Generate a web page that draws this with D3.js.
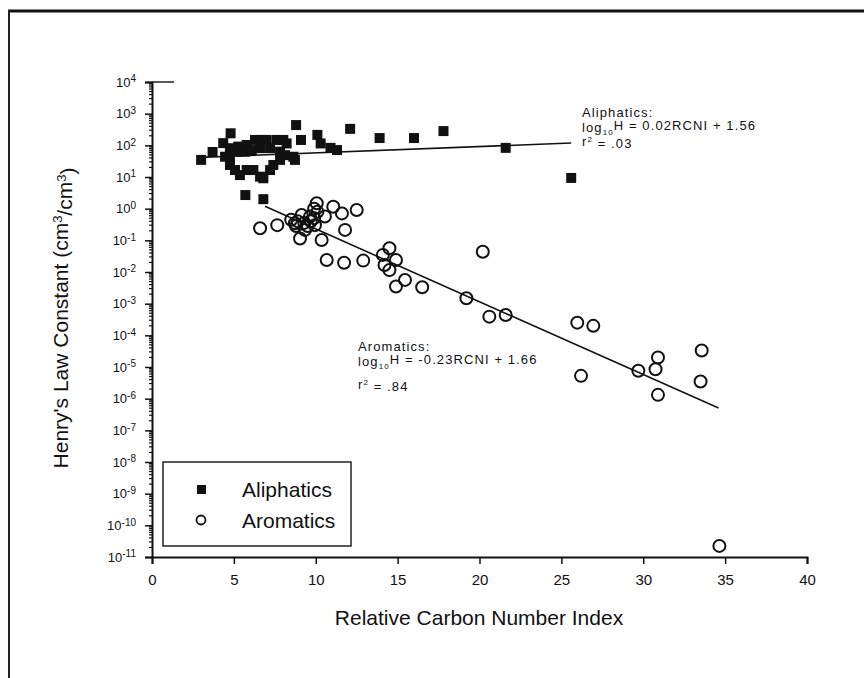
<!DOCTYPE html>
<html>
<head>
<meta charset="utf-8">
<script src="https://cdn.jsdelivr.net/npm/d3@7"></script>
<style>
  html, body { margin: 0; padding: 0; background: #fff; }
  svg { display: block; font-family: "Liberation Sans", Arial, sans-serif; }
</style>
</head>
<body>
<svg id="chart" width="864" height="678"></svg>
<script>
// Relative Carbon Number Index (RCNI) vs log10 of Henry's law constant
const aliphaticX = [3.0, 3.7, 4.35, 4.8, 8.8, 9.1, 10.1, 12.1, 10.9, 10.3, 11.3,
  13.9, 16.0, 17.8, 21.6, 25.6, 5.7, 6.8,
  4.76, 5.27, 5.78, 6.29, 6.7, 7.0, 7.61, 8.02, 8.22,
  4.76, 5.17, 5.68, 6.09, 6.6, 7.21, 7.82, 8.12, 8.63, 8.73,
  4.76, 5.07, 5.37, 5.78, 6.19, 6.6, 6.8, 7.21, 7.41, 7.82, 4.46];
const aliphaticLogH = [1.54, 1.79, 2.07, 2.38, 2.64, 2.17, 2.33, 2.52, 1.92, 2.06, 1.85,
  2.23, 2.23, 2.45, 1.92, 0.97, 0.43, 0.30,
  1.91, 1.96, 2.01, 2.17, 2.17, 2.17, 2.17, 2.17, 2.06,
  1.69, 1.80, 1.80, 1.85, 1.91, 1.91, 1.80, 1.69, 1.64, 1.54,
  1.38, 1.22, 1.06, 1.22, 1.22, 1.01, 0.96, 1.22, 1.38, 1.54, 1.64];

const aromaticX = [6.6, 7.65, 10.06, 11.07, 11.6, 12.5, 9.14, 9.65, 10.56, 8.73,
  9.95, 9.34, 9.04, 10.36, 11.79, 10.67, 11.73, 12.9, 14.5, 14.1,
  14.9, 14.2, 14.5, 15.45, 14.9, 16.5, 20.2, 19.2, 20.6, 21.6,
  25.97, 26.95, 26.2, 29.7, 30.9, 30.75, 30.9, 33.57, 33.5, 34.65,
  8.5, 8.9, 9.3, 9.7, 9.9, 9.5, 8.8, 9.9, 10.1];
const aromaticLogH = [-0.62, -0.52, 0.17, 0.06, -0.15, -0.04, -0.2, -0.25, -0.25, -0.46,
  -0.52, -0.67, -0.94, -0.99, -0.67, -1.62, -1.71, -1.64, -1.25, -1.46,
  -1.62, -1.78, -1.94, -2.25, -2.46, -2.48, -1.36, -2.83, -3.41, -3.36,
  -3.6, -3.7, -5.28, -5.12, -4.7, -5.07, -5.88, -4.48, -5.46, -10.65,
  -0.35, -0.4, -0.45, -0.4, -0.3, -0.55, -0.55, 0.0, -0.1];

// Regression fits: log10 H = slope * RCNI + intercept
const fitNames = ["Aliphatics", "Aromatics"];
const fitSlopes = [0.02, -0.23];
const fitIntercepts = [1.56, 1.66];
const fitRanges = [[3.0, 25.6], [6.9, 34.6]];
const fitR2 = [".03", ".84"];

const xTicks = [0, 5, 10, 15, 20, 25, 30, 35, 40];
const yExponents = [4, 3, 2, 1, 0, -1, -2, -3, -4, -5, -6, -7, -8, -9, -10, -11];

const svg = d3.select("#chart");
const x = d3.scaleLinear().domain([0, 40]).range([152, 807]);
const y = d3.scaleLinear().domain([-11, 4]).range([557, 82]);

// page frame
svg.append("line").attr("x1", 8).attr("x2", 864).attr("y1", 11).attr("y2", 11)
  .attr("stroke", "#111").attr("stroke-width", 3);
svg.append("line").attr("x1", 9).attr("x2", 9).attr("y1", 10).attr("y2", 678)
  .attr("stroke", "#222").attr("stroke-width", 2);

// short cap at the top of the value axis
svg.append("line").attr("x1", x(0)).attr("x2", x(0) + 22).attr("y1", y(4)).attr("y2", y(4))
  .attr("stroke", "#222").attr("stroke-width", 1.5);

// minor ticks on the log axis
const minor = [];
yExponents.slice(1).forEach(e => { for (let k = 2; k <= 9; k++) minor.push(e + Math.log10(k)); });
svg.append("g").selectAll("line").data(minor).join("line")
  .attr("x1", x(0) - 3).attr("x2", x(0)).attr("y1", d => y(d)).attr("y2", d => y(d))
  .attr("stroke", "#111").attr("stroke-width", 1.2);

// y axis
const yAxis = svg.append("g").attr("transform", `translate(${x(0)},0)`)
  .call(d3.axisLeft(y).tickValues(yExponents).tickSize(7).tickPadding(9).tickFormat(""));
yAxis.select(".domain").attr("stroke", "#111").attr("stroke-width", 2);
yAxis.selectAll(".tick line").attr("stroke", "#111").attr("stroke-width", 1.5);
yAxis.selectAll(".tick text").each(function (d) {
  const t = d3.select(this).attr("font-size", 13).attr("fill", "#111")
    .attr("font-family", "Liberation Sans, Arial, sans-serif");
  t.append("tspan").text("10");
  t.append("tspan").attr("dy", "-0.45em").attr("font-size", 10).text(d);
});

// x axis
const xAxis = svg.append("g").attr("transform", `translate(0,${y(-11)})`)
  .call(d3.axisBottom(x).tickValues(xTicks).tickSize(7).tickPadding(10));
xAxis.select(".domain").attr("stroke", "#111").attr("stroke-width", 2);
xAxis.selectAll(".tick line").attr("stroke", "#111").attr("stroke-width", 1.5);
xAxis.selectAll(".tick text").attr("font-size", 15).attr("fill", "#111")
  .attr("font-family", "Liberation Sans, Arial, sans-serif");

// axis titles
svg.append("text").attr("x", 479).attr("y", 625).attr("text-anchor", "middle")
  .attr("font-size", 21).attr("fill", "#111").text("Relative Carbon Number Index");
const yTitle = svg.append("text").attr("transform", "translate(68,318) rotate(-90)")
  .attr("text-anchor", "middle").attr("font-size", 21).attr("fill", "#111");
yTitle.append("tspan").text("Henry's Law Constant (cm");
yTitle.append("tspan").attr("dy", "-0.45em").attr("font-size", 13).text("3");
yTitle.append("tspan").attr("dy", "0.45em").text("/cm");
yTitle.append("tspan").attr("dy", "-0.45em").attr("font-size", 13).text("3");
yTitle.append("tspan").attr("dy", "0.45em").text(")");

// regression lines
svg.append("g").selectAll("line").data(fitSlopes).join("line")
  .attr("x1", (m, i) => x(fitRanges[i][0]))
  .attr("x2", (m, i) => x(fitRanges[i][1]))
  .attr("y1", (m, i) => y(m * fitRanges[i][0] + fitIntercepts[i]))
  .attr("y2", (m, i) => y(m * fitRanges[i][1] + fitIntercepts[i]))
  .attr("stroke", "#111").attr("stroke-width", 1.6);

// aromatic points (open circles)
svg.append("g").selectAll("circle").data(aromaticX).join("circle")
  .attr("cx", d => x(d)).attr("cy", (d, i) => y(aromaticLogH[i]))
  .attr("r", 6).attr("fill", "none")
  .attr("stroke", "#111").attr("stroke-width", 2);

// aliphatic points (filled squares)
const sq = 10;
svg.append("g").selectAll("rect").data(aliphaticX).join("rect")
  .attr("x", d => x(d) - sq / 2).attr("y", (d, i) => y(aliphaticLogH[i]) - sq / 2)
  .attr("width", sq).attr("height", sq).attr("fill", "#111");

// equation annotations
const notePos = [[582, 117, 15, 29], [358, 351, 15, 38]];
fitNames.forEach((name, i) => {
  const g = svg.append("g").attr("font-size", 13).attr("fill", "#111")
    .attr("letter-spacing", 1.1);
  const [px, py, d1, d2] = notePos[i];
  g.append("text").attr("x", px).attr("y", py).text(name + ":");
  const eq = g.append("text").attr("x", px).attr("y", py + d1);
  eq.append("tspan").text("log");
  eq.append("tspan").attr("dy", "0.35em").attr("font-size", 8).text("10");
  const sign = fitSlopes[i] < 0 ? "-" : "";
  eq.append("tspan").attr("dy", "-0.35em")
    .text(`H = ${sign}${Math.abs(fitSlopes[i]).toFixed(2)}RCNI + ${fitIntercepts[i].toFixed(2)}`);
  const r = g.append("text").attr("x", px).attr("y", py + d2);
  r.append("tspan").text("r");
  r.append("tspan").attr("dy", "-0.45em").attr("font-size", 8).text("2");
  r.append("tspan").attr("dy", "0.45em").text(" = " + fitR2[i]);
});

// legend
const lg = svg.append("g");
lg.append("rect").attr("x", 163).attr("y", 462).attr("width", 188).attr("height", 84)
  .attr("fill", "#fff").attr("stroke", "#222").attr("stroke-width", 1.5);
lg.append("rect").attr("x", 197).attr("y", 485).attr("width", 9).attr("height", 9).attr("fill", "#111");
lg.append("circle").attr("cx", 201).attr("cy", 520).attr("r", 4.5)
  .attr("fill", "none").attr("stroke", "#111").attr("stroke-width", 1.8);
lg.append("text").attr("x", 242).attr("y", 497).attr("font-size", 21).attr("fill", "#111").text("Aliphatics");
lg.append("text").attr("x", 242).attr("y", 528).attr("font-size", 21).attr("fill", "#111").text("Aromatics");
</script>
</body>
</html>
